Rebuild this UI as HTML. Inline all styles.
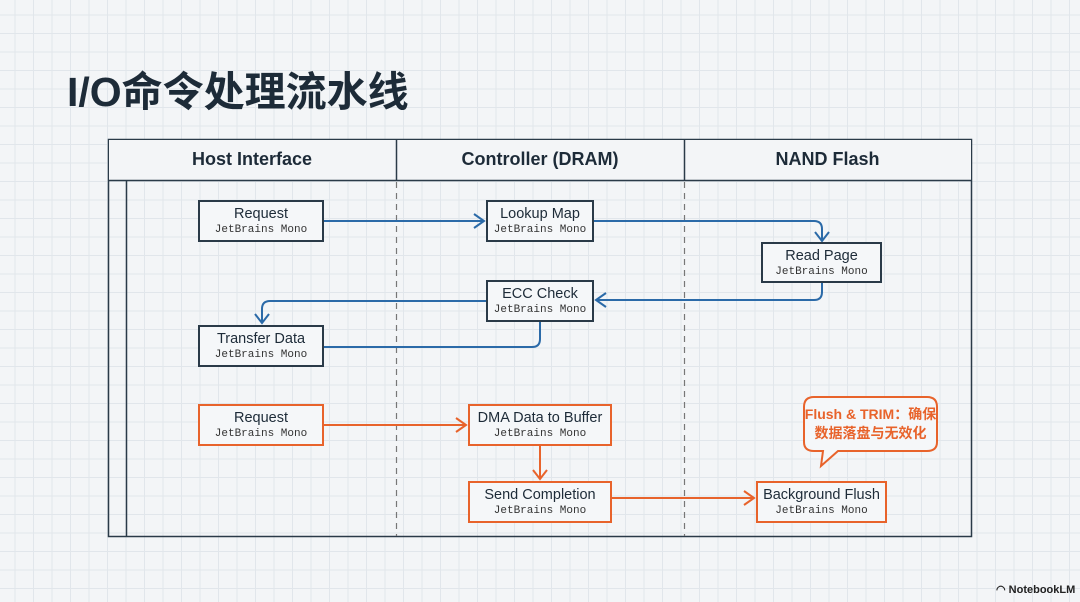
<!DOCTYPE html>
<html><head><meta charset="utf-8"><style>
body{margin:0;width:1080px;height:602px;overflow:hidden;background:#f3f5f7;
background-image:linear-gradient(#e1e6eb 1px,transparent 1px),linear-gradient(90deg,#e1e6eb 1px,transparent 1px);background-size:18.5px 18.5px;background-position:-4px -4px;
font-family:"Liberation Sans","Noto Sans CJK SC",sans-serif;position:relative}
.t{position:absolute;left:67px;top:58px;font-size:41px;font-weight:bold;color:#1d2b38;letter-spacing:0px}
.box{position:absolute;background:#f5f7f9;border:2px solid #2a3a48;box-sizing:border-box;text-align:center;color:#1d2b38}
.box.o{border-color:#e8632b}
.box b{display:block;font-weight:normal;font-size:14.5px;margin-top:4px;line-height:17px}
.box i{display:block;font-style:normal;font-family:"Liberation Mono",monospace;font-size:11px;color:#333;line-height:14px}
.h{position:absolute;top:139px;height:41px;line-height:41px;text-align:center;font-weight:bold;font-size:18px;color:#1d2b38}
</style></head><body>
<div class="t">I/O命令处理流水线</div>
<svg width="1080" height="602" style="position:absolute;left:0;top:0">
<rect x="108.5" y="139.5" width="863" height="397" fill="none" stroke="#2a3a48" stroke-width="1.5"/>
<rect x="109" y="140" width="862" height="40" fill="#f3f5f7"/>
<line x1="108" y1="180.5" x2="971" y2="180.5" stroke="#2a3a48" stroke-width="1.5"/>
<line x1="396.5" y1="139" x2="396.5" y2="180" stroke="#2a3a48" stroke-width="1.5"/>
<line x1="684.5" y1="139" x2="684.5" y2="180" stroke="#2a3a48" stroke-width="1.5"/>
<line x1="126.5" y1="180" x2="126.5" y2="537" stroke="#2a3a48" stroke-width="1.5"/>
<line x1="396.5" y1="182" x2="396.5" y2="536" stroke="#777" stroke-width="1.2" stroke-dasharray="6,5"/>
<line x1="684.5" y1="182" x2="684.5" y2="536" stroke="#777" stroke-width="1.2" stroke-dasharray="6,5"/>
<g fill="none" stroke="#2b6aa8" stroke-width="2">
<path d="M324 221 H484"/><path d="M474 214 L484 221 L474 228"/>
<path d="M594 221 H814 Q822 221 822 229 V240"/><path d="M815 232 L822 241 L829 232"/>
<path d="M822 283 V292 Q822 300 814 300 H596"/><path d="M606 293 L596 300 L606 307"/>
<path d="M486 301 H270 Q262 301 262 309 V323"/><path d="M255 314 L262 323 L269 314"/>
<path d="M324 347 H532 Q540 347 540 339 V322"/>
</g>
<g fill="none" stroke="#e8632b" stroke-width="2">
<path d="M324 425 H466"/><path d="M456 418 L466 425 L456 432"/>
<path d="M540 446 V479"/><path d="M533 470 L540 479 L547 470"/>
<path d="M612 498 H754"/><path d="M744 491 L754 498 L744 505"/>
<path d="M814 397 H927 Q937 397 937 407 V442 Q937 451 927 451 H838 L821 466 L823 451 H814 Q804 451 804 442 V407 Q804 397 814 397 Z" fill="#f5f7f9"/>
</g>
</svg>
<div class="h" style="left:108px;width:288px">Host Interface</div>
<div class="h" style="left:396px;width:288px">Controller (DRAM)</div>
<div class="h" style="left:684px;width:287px">NAND Flash</div>
<div class="box" style="left:198px;top:200px;width:126px;height:42px"><b>Request</b><i>JetBrains Mono</i></div>
<div class="box" style="left:486px;top:200px;width:108px;height:42px"><b>Lookup Map</b><i>JetBrains Mono</i></div>
<div class="box" style="left:761px;top:242px;width:121px;height:41px"><b>Read Page</b><i>JetBrains Mono</i></div>
<div class="box" style="left:486px;top:280px;width:108px;height:42px"><b>ECC Check</b><i>JetBrains Mono</i></div>
<div class="box" style="left:198px;top:325px;width:126px;height:42px"><b>Transfer Data</b><i>JetBrains Mono</i></div>
<div class="box o" style="left:198px;top:404px;width:126px;height:42px"><b>Request</b><i>JetBrains Mono</i></div>
<div class="box o" style="left:468px;top:404px;width:144px;height:42px"><b>DMA Data to Buffer</b><i>JetBrains Mono</i></div>
<div class="box o" style="left:468px;top:481px;width:144px;height:42px"><b>Send Completion</b><i>JetBrains Mono</i></div>
<div class="box o" style="left:756px;top:481px;width:131px;height:42px"><b>Background Flush</b><i>JetBrains Mono</i></div>
<div style="position:absolute;left:804px;top:405px;width:133px;text-align:center;color:#e8632b;font-size:14px;font-weight:bold;line-height:19px">Flush &amp; TRIM：确保<br>数据落盘与无效化</div>
<div style="position:absolute;left:996px;top:583px;font-size:11px;color:#222;font-weight:bold">◠ NotebookLM</div>
</body></html>
